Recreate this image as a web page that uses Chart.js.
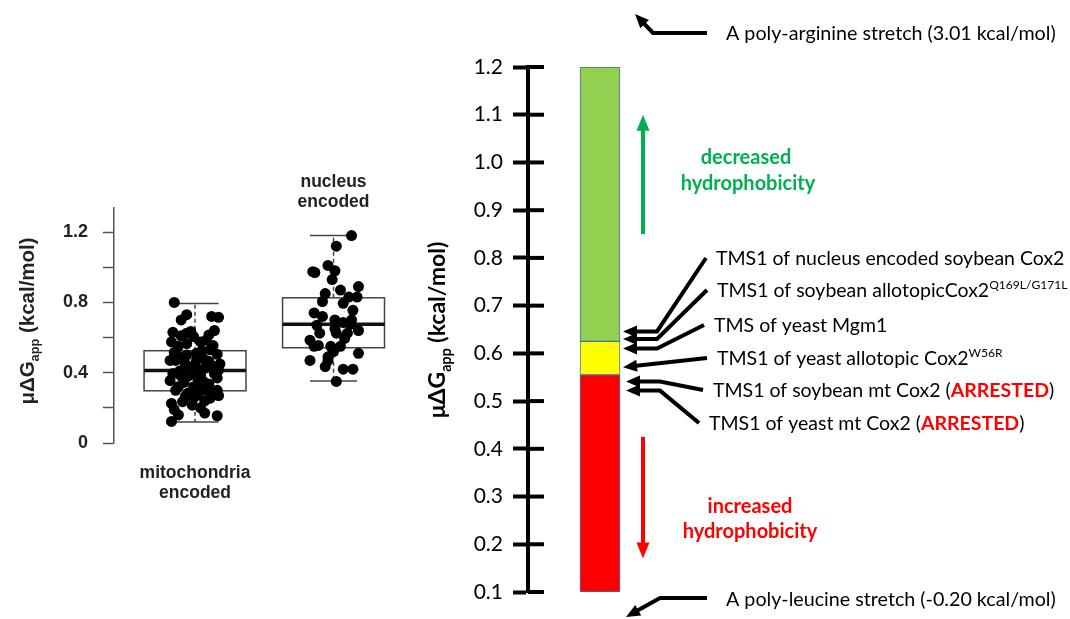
<!DOCTYPE html>
<html>
<head>
<meta charset="utf-8">
<script src="https://cdn.jsdelivr.net/npm/chart.js@4.4.1/dist/chart.umd.min.js"></script>
<style>
  html, body { margin: 0; padding: 0; background: #fff; }
  #wrap { position: relative; width: 1070px; height: 619px; }
  canvas { position: absolute; left: 0; top: 0; }
</style>
</head>
<body>
<div id="wrap">
  <canvas id="boxes" width="1070" height="619"></canvas>
  <canvas id="scale" width="1070" height="619"></canvas>
</div>
<script>
// ---- left panel: box plot of apparent ΔG values ----
const groups = ["mitochondria encoded", "nucleus encoded"];
const groupX = [1, 2];

// [x jitter position, μΔGapp]
const mitoPoints = [
  [0.85, 0.80], [0.94, 0.73], [0.90, 0.70], [1.12, 0.72], [1.17, 0.715], [1.14, 0.64], [0.84, 0.63], [0.90, 0.61],
  [0.97, 0.635], [1.10, 0.615], [0.83, 0.575], [0.88, 0.55], [1.04, 0.575], [1.13, 0.555], [0.85, 0.515], [0.94, 0.50],
  [1.05, 0.525], [1.16, 0.505], [0.86, 0.47], [0.93, 0.45], [1.01, 0.47], [1.10, 0.465], [1.18, 0.45], [0.89, 0.41],
  [0.97, 0.395], [1.07, 0.425], [1.14, 0.395], [0.82, 0.355], [0.92, 0.345], [1.02, 0.365], [1.10, 0.335], [1.16, 0.37],
  [0.86, 0.30], [0.95, 0.285], [1.04, 0.305], [1.13, 0.285], [1.17, 0.27], [0.83, 0.225], [0.91, 0.235], [0.99, 0.255],
  [1.07, 0.24], [0.85, 0.19], [1.04, 0.20], [1.07, 0.17], [1.16, 0.155], [0.83, 0.123], [0.88, 0.16], [0.94, 0.565],
  [0.99, 0.605], [1.08, 0.585], [0.90, 0.48], [1.06, 0.48], [0.98, 0.435], [0.84, 0.395], [1.04, 0.385], [1.13, 0.435],
  [0.88, 0.32], [0.99, 0.32], [1.08, 0.30], [0.93, 0.265], [1.02, 0.275], [1.11, 0.255], [0.95, 0.38], [1.17, 0.415],
  [0.87, 0.50], [1.11, 0.53], [0.94, 0.625], [1.01, 0.51], [0.90, 0.38], [1.06, 0.35], [0.98, 0.215], [0.82, 0.47],
  [1.01, 0.425], [1.16, 0.30]
];
const nucleusPoints = [
  [2.13, 1.18], [2.02, 1.12], [1.85, 0.975], [1.865, 0.97], [1.96, 1.01], [2.01, 0.98], [1.99, 0.93], [2.18, 0.89],
  [2.05, 0.87], [1.94, 0.85], [2.11, 0.83], [2.17, 0.83], [1.92, 0.805], [2.07, 0.795], [2.14, 0.755], [1.86, 0.74],
  [1.92, 0.72], [2.13, 0.70], [2.01, 0.70], [2.07, 0.685], [2.12, 0.675], [1.88, 0.67], [2.01, 0.65], [2.18, 0.64],
  [2.10, 0.625], [2.02, 0.625], [1.90, 0.625], [1.83, 0.585], [1.89, 0.555], [1.86, 0.55], [1.98, 0.55], [2.05, 0.55],
  [2.00, 0.52], [2.18, 0.51], [1.83, 0.47], [1.96, 0.47], [1.94, 0.435], [2.07, 0.42], [2.14, 0.42], [2.02, 0.35],
  [1.96, 0.49], [2.08, 0.595]
];

const boxMin = [0.12, 0.353];
const boxQ1 = [0.297, 0.542];
const boxMedian = [0.412, 0.675];
const boxQ3 = [0.525, 0.826];
const boxMax = [0.794, 1.181];

// ---- right panel: hydrophobicity scale ----
const bandNames = ["increased hydrophobicity", "threshold", "decreased hydrophobicity"];
const bandFrom = [0.1, 0.555, 0.625];
const bandTo = [0.555, 0.625, 1.2];

const tmsLabels = [
  "TMS1 of nucleus encoded soybean Cox2",
  "TMS1 of soybean allotopicCox2^{Q169L/G171L}",
  "TMS of yeast Mgm1",
  "TMS1 of yeast allotopic Cox2^{W56R}",
  "TMS1 of soybean mt Cox2 (*ARRESTED*)",
  "TMS1 of yeast mt Cox2 (*ARRESTED*)"
];
const tmsValues = [0.646, 0.630, 0.610, 0.571, 0.541, 0.522];

const polyArg = "A poly-arginine stretch (3.01 kcal/mol)";
const polyLeu = "A poly-leucine stretch (-0.20 kcal/mol)";

// ---- drawing helpers ----
function richParts(str) {
  const parts = [];
  const re = /\^\{([^}]*)\}|_\{([^}]*)\}|\*([^*]*)\*|([^^_*]+)/g;
  let m;
  while ((m = re.exec(str))) {
    if (m[1] !== undefined) parts.push({ t: m[1], mode: "sup" });
    else if (m[2] !== undefined) parts.push({ t: m[2], mode: "sub" });
    else if (m[3] !== undefined) parts.push({ t: m[3], mode: "hot" });
    else parts.push({ t: m[4], mode: "n" });
  }
  return parts;
}

// y is the middle of the text line
function drawRich(ctx, str, x, y, o) {
  const parts = richParts(str);
  const fontFor = p => {
    const w = p.mode === "hot" ? "bold" : (o.weight || "normal");
    const s = (p.mode === "sup" || p.mode === "sub") ? o.size * 0.62 : o.size;
    return `${w} ${s}px ${o.family}`;
  };
  let total = 0;
  parts.forEach(p => { ctx.font = fontFor(p); p.w = ctx.measureText(p.t).width; total += p.w; });
  let cx = o.align === "center" ? x - total / 2 : x;
  const base = y + o.size * 0.36;
  ctx.textAlign = "left";
  ctx.textBaseline = "alphabetic";
  parts.forEach(p => {
    ctx.font = fontFor(p);
    ctx.fillStyle = p.mode === "hot" ? "#ff0000" : o.color;
    const dy = p.mode === "sup" ? -o.size * 0.42 : p.mode === "sub" ? o.size * 0.24 : 0;
    ctx.fillText(p.t, cx, base + dy);
    cx += p.w;
  });
}

function arrow(ctx, pts, color, lw, headLen, headW) {
  const n = pts.length;
  const [tx, ty] = pts[n - 1];
  const [px, py] = pts[n - 2];
  const a = Math.atan2(ty - py, tx - px);
  const c = Math.cos(a), s = Math.sin(a);
  ctx.save();
  ctx.strokeStyle = color;
  ctx.fillStyle = color;
  ctx.lineWidth = lw;
  ctx.lineJoin = "miter";
  ctx.beginPath();
  ctx.moveTo(pts[0][0], pts[0][1]);
  for (let i = 1; i < n - 1; i++) ctx.lineTo(pts[i][0], pts[i][1]);
  ctx.lineTo(tx - c * headLen * 0.8, ty - s * headLen * 0.8);
  ctx.stroke();
  ctx.beginPath();
  ctx.moveTo(tx, ty);
  ctx.lineTo(tx - c * headLen - s * headW / 2, ty - s * headLen + c * headW / 2);
  ctx.lineTo(tx - c * headLen + s * headW / 2, ty - s * headLen - c * headW / 2);
  ctx.closePath();
  ctx.fill();
  ctx.restore();
}

const BOX_HALF = 0.368;
const CAP_HALF = 0.17;

const boxPlugin = {
  id: "boxes",
  beforeDatasetsDraw(chart) {
    const { ctx, scales: { x, y } } = chart;
    ctx.save();
    groupX.forEach((gx, i) => {
      const cx = x.getPixelForValue(gx);
      const l = x.getPixelForValue(gx - BOX_HALF), r = x.getPixelForValue(gx + BOX_HALF);
      const cl = x.getPixelForValue(gx - CAP_HALF), cr = x.getPixelForValue(gx + CAP_HALF);
      const yMin = y.getPixelForValue(boxMin[i]), yQ1 = y.getPixelForValue(boxQ1[i]);
      const yMed = y.getPixelForValue(boxMedian[i]), yQ3 = y.getPixelForValue(boxQ3[i]);
      const yMax = y.getPixelForValue(boxMax[i]);
      ctx.strokeStyle = "#444";
      ctx.lineWidth = 1.5;
      ctx.setLineDash([4, 3]);
      ctx.beginPath();
      ctx.moveTo(cx, yQ3); ctx.lineTo(cx, yMax);
      ctx.moveTo(cx, yQ1); ctx.lineTo(cx, yMin);
      ctx.stroke();
      ctx.setLineDash([]);
      ctx.beginPath();
      ctx.moveTo(cl, yMax); ctx.lineTo(cr, yMax);
      ctx.moveTo(cl, yMin); ctx.lineTo(cr, yMin);
      ctx.stroke();
      ctx.fillStyle = "#fff";
      ctx.fillRect(l, yQ3, r - l, yQ1 - yQ3);
      ctx.strokeRect(l, yQ3, r - l, yQ1 - yQ3);
      ctx.strokeStyle = "#111";
      ctx.lineWidth = 3.5;
      ctx.beginPath();
      ctx.moveTo(l, yMed); ctx.lineTo(r, yMed);
      ctx.stroke();
    });
    ctx.restore();
  },
  afterDraw(chart) {
    const { ctx, scales: { x } } = chart;
    ctx.save();
    ctx.fillStyle = "#222";
    ctx.font = "bold 17.5px 'Liberation Sans', Arial";
    ctx.textAlign = "center";
    ctx.textBaseline = "middle";
    const [m1, m2] = groups[0].split(" ");
    const [n1, n2] = groups[1].split(" ");
    ctx.fillText(m1, x.getPixelForValue(groupX[0]), 473);
    ctx.fillText(m2, x.getPixelForValue(groupX[0]), 493);
    ctx.fillText(n1, x.getPixelForValue(groupX[1]), 182);
    ctx.fillText(n2, x.getPixelForValue(groupX[1]), 202);
    ctx.translate(27, 321);
    ctx.rotate(-Math.PI / 2);
    drawRich(ctx, "μΔG_{app} (kcal/mol)", 0, 0, { size: 20.5, family: "'Liberation Sans', Arial", weight: "bold", color: "#222", align: "center" });
    ctx.restore();
  }
};

new Chart(document.getElementById("boxes"), {
  type: "scatter",
  data: {
    datasets: [
      { label: groups[0], data: mitoPoints.map(p => ({ x: p[0], y: p[1] })) },
      { label: groups[1], data: nucleusPoints.map(p => ({ x: p[0], y: p[1] })) }
    ]
  },
  options: {
    responsive: false,
    animation: false,
    events: [],
    elements: { point: { radius: 5.5, backgroundColor: "#000", borderWidth: 0 } },
    layout: { padding: { left: 0, top: 208, right: 660, bottom: 176 } },
    plugins: { legend: { display: false }, tooltip: { enabled: false } },
    scales: {
      x: { type: "linear", display: false, min: 0.415, max: 2.552 },
      y: {
        min: 0, max: 1.337,
        afterFit: s => { s.width = 114; },
        border: { display: true, color: "#555", width: 1.5 },
        grid: { drawOnChartArea: false, drawTicks: true, tickLength: 11, tickColor: "#555", tickWidth: 1.5 },
        ticks: {
          stepSize: 0.2, includeBounds: false, padding: 15, color: "#222",
          font: { family: "'Liberation Sans', Arial", weight: "bold", size: 18 },
          callback: v => (Math.round(v * 10) % 4 === 0 ? (v === 0 ? "0" : v.toFixed(1)) : "")
        }
      }
    }
  },
  plugins: [boxPlugin]
});

// ---- right panel ----
const FONT = "Lato, 'Open Sans', sans-serif";
const GREEN = "#00b050";
const RED = "#ff0000";

// where each label text starts (pixel layout of the annotation column)
const labelAnchor = [[716, 258], [717, 290], [714, 325], [717, 358], [713, 390], [709, 423]];

const scaleNotes = {
  id: "scaleNotes",
  afterDraw(chart) {
    const { ctx, chartArea, scales: { y } } = chart;
    ctx.save();
    // inner half of the tick marks
    ctx.strokeStyle = "#000";
    ctx.lineWidth = 4;
    y.ticks.forEach(t => {
      const py = y.getPixelForValue(t.value);
      ctx.beginPath();
      ctx.moveTo(chartArea.left, py);
      ctx.lineTo(chartArea.left + 16, py);
      ctx.stroke();
    });

    const bar = chart.getDatasetMeta(0).data[0];
    const barRight = bar.x + bar.width / 2;

    tmsValues.forEach((v, i) => {
      const ty = y.getPixelForValue(v);
      const tx = barRight + (i >= 4 ? 6 : 3);
      const [lx, ly] = labelAnchor[i];
      const pts = i === 3
        ? [[lx - 10, ly], [tx, ty]]
        : [[lx - 10, ly], [tx + 34, ty], [tx, ty]];
      arrow(ctx, pts, "#000", 4, 14, 12);
      drawRich(ctx, tmsLabels[i], lx, ly, { size: 19.5, family: FONT, color: "#000" });
    });

    // green / red direction arrows
    arrow(ctx, [[643, y.getPixelForValue(0.85)], [643, y.getPixelForValue(1.1)]], GREEN, 4, 16, 13);
    arrow(ctx, [[643, y.getPixelForValue(0.425)], [643, y.getPixelForValue(0.17)]], RED, 4, 16, 13);
    ctx.textAlign = "center";
    ctx.textBaseline = "middle";
    ctx.font = `bold 20px ${FONT}`;
    ctx.fillStyle = GREEN;
    ctx.fillText("decreased", 746, 158);
    ctx.fillText("hydrophobicity", 748, 184);
    ctx.fillStyle = RED;
    ctx.fillText("increased", 750, 507);
    ctx.fillText("hydrophobicity", 750, 532);

    // off-scale reference stretches
    arrow(ctx, [[707, 33], [653, 33], [635, 14]], "#000", 4, 14, 12);
    arrow(ctx, [[707, 598], [660, 598], [626, 617]], "#000", 4, 14, 12);
    drawRich(ctx, polyArg, 726, 33, { size: 19.7, family: FONT, color: "#000" });
    drawRich(ctx, polyLeu, 726, 599, { size: 19.7, family: FONT, color: "#000" });

    // axis title
    ctx.translate(437, 330);
    ctx.rotate(-Math.PI / 2);
    drawRich(ctx, "μΔG_{app} (kcal/mol)", 0, 0, { size: 23, family: FONT, weight: "bold", color: "#000", align: "center" });
    ctx.restore();
  }
};

new Chart(document.getElementById("scale"), {
  type: "bar",
  data: {
    labels: ["μΔGapp"],
    datasets: bandNames.map((n, i) => ({
      label: n,
      data: [[bandFrom[i], bandTo[i]]],
      backgroundColor: ["#ff0000", "#ffff00", "#92d050"][i],
      borderColor: "#4a6aa8",
      borderWidth: 1,
      borderSkipped: false,
      barThickness: 40,
      grouped: false
    }))
  },
  options: {
    responsive: false,
    animation: false,
    events: [],
    layout: { padding: { left: 0, top: 67, right: 398, bottom: 27 } },
    plugins: { legend: { display: false }, tooltip: { enabled: false } },
    scales: {
      x: { display: false },
      y: {
        min: 0.1, max: 1.2,
        afterFit: s => { s.width = 528; },
        border: { display: true, color: "#000", width: 4 },
        grid: { drawOnChartArea: false, drawTicks: true, tickLength: 15, tickWidth: 4, tickColor: "#000" },
        ticks: {
          stepSize: 0.1, padding: 10, color: "#000",
          font: { family: FONT, size: 21 },
          callback: v => v.toFixed(1)
        }
      }
    }
  },
  plugins: [scaleNotes]
});
</script>
</body>
</html>
